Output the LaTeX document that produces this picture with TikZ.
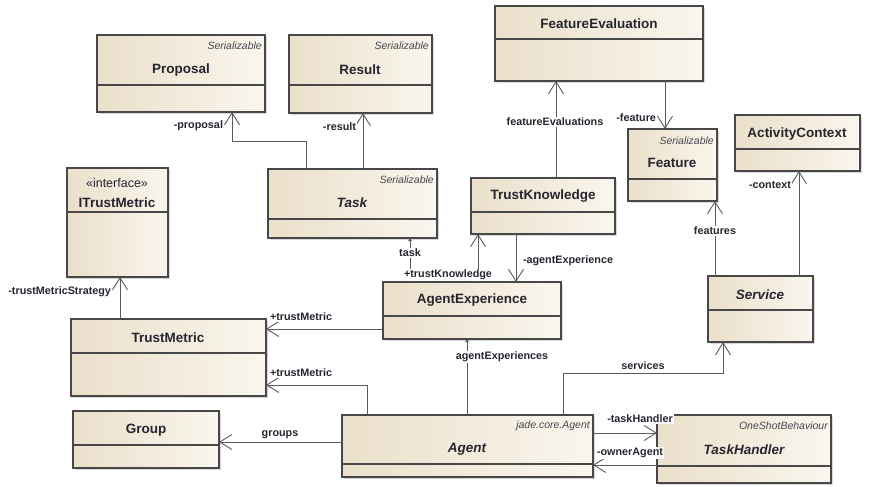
\documentclass[tikz,border=0pt]{standalone}
\usepackage{fontspec}
\setmainfont{Liberation Sans}
\usetikzlibrary{arrows.meta,shadows}

\definecolor{boxleft}{RGB}{234,223,202}
\definecolor{boxright}{RGB}{250,246,238}
\definecolor{boxline}{RGB}{72,72,72}
\definecolor{linkgray}{RGB}{90,90,90}
\definecolor{inkdark}{RGB}{38,38,48}

\tikzset{
  classbox/.style={draw=boxline, line width=1.1pt, left color=boxleft, right color=boxright,
    anchor=north west, inner sep=0pt, outer sep=0pt,
    drop shadow={opacity=0.3, shadow xshift=2pt, shadow yshift=-2pt}},
  classline/.style={boxline, line width=1.1pt},
  classname/.style={font=\fontsize{13.5}{15}\selectfont\bfseries, text=inkdark, inner sep=0pt},
  absname/.style={classname, font=\fontsize{13.5}{15}\selectfont\bfseries\itshape},
  stereo/.style={font=\fontsize{10.5}{12}\selectfont\itshape, text=inkdark!85, anchor=east, inner sep=0pt},
  assoc/.style={linkgray, line width=0.9pt, -{Straight Barb[length=12pt, width=15pt, line width=0.9pt]}},
  nav/.style={linkgray, line width=0.9pt, -{Triangle[length=3pt, width=3.5pt]}},
  role/.style={font=\fontsize{10.8}{12}\selectfont\bfseries, text=inkdark, fill=white, inner sep=0.8pt}
}

% class box: id, left, top, width, height, height of the name compartment
\newcommand{\umlclass}[6]{%
  \node[classbox, minimum width=#4pt, minimum height=#5pt] (#1) at (#2,#3) {};
  \draw[classline] ([yshift=-#6pt]#1.north west) -- ([yshift=-#6pt]#1.north east);
}

\begin{document}
\begin{tikzpicture}[x=1pt, y=-1pt]
  \fill[white] (0,0) rectangle (871,487);
  \useasboundingbox (0,0) rectangle (871,487);

  % classes
  \umlclass{proposal}{97}{35}{168}{77}{50}
  \umlclass{result}{289}{35}{143}{78}{50}
  \umlclass{feateval}{495}{6}{208}{75}{33}
  \umlclass{feature}{628}{129}{89}{72}{50}
  \umlclass{context}{735}{115}{125}{56}{34}
  \umlclass{service}{708}{276}{105}{66}{34}
  \umlclass{itrust}{67}{168}{101}{109}{44}
  \umlclass{task}{268}{169}{169}{69}{50}
  \umlclass{trustknow}{471}{178}{144}{56}{34}
  \umlclass{agentexp}{383}{282}{178}{57}{34}
  \umlclass{trustmetric}{71}{319}{195}{77}{34}
  \umlclass{group}{73}{411}{146}{57}{34}
  \umlclass{agent}{342}{415}{251}{62}{49}
  \umlclass{taskhandler}{657}{415}{174}{68}{51}

  % names and stereotypes
  \node[stereo] (proposal-st) at (262,46) {Serializable};
  \node[classname] (proposal-nm) at (181,70) {Proposal};
  \node[stereo] (result-st) at (429,46) {Serializable};
  \node[classname] (result-nm) at (360,70) {Result};
  \node[classname] (feateval-nm) at (599,24) {FeatureEvaluation};
  \node[stereo] (feature-st) at (714,141) {Serializable};
  \node[classname] (feature-nm) at (672,163) {Feature};
  \node[classname] (context-nm) at (797,134) {ActivityContext};
  \node[absname] (service-nm) at (760,295) {Service};
  \node[font=\fontsize{12.5}{14}\selectfont, text=inkdark, inner sep=0pt] (itrust-st) at (117,183) {«interface»};
  \node[classname] (itrust-nm) at (117,203) {ITrustMetric};
  \node[stereo] (task-st) at (434,180) {Serializable};
  \node[absname] (task-nm) at (352,203) {Task};
  \node[classname] (trustknow-nm) at (543,196) {TrustKnowledge};
  \node[classname] (agentexp-nm) at (472,300) {AgentExperience};
  \node[classname] (trustmetric-nm) at (168,338) {TrustMetric};
  \node[classname] (group-nm) at (146,430) {Group};
  \node[stereo] (agent-st) at (590,426) {jade.core.Agent};
  \node[absname] (agent-nm) at (467,449) {Agent};
  \node[stereo] (taskhandler-st) at (828,426) {OneShotBehaviour};
  \node[absname] (taskhandler-nm) at (744,450) {TaskHandler};

  % associations
  \draw[assoc] (task.north -| 306,0) -- ++(0,-28) -| (proposal.south -| 232,0);
  \draw[assoc] (task.north -| 363,0) -- (result.south -| 363,0);
  \draw[assoc] (trustknow.north -| 556,0) -- (feateval.south -| 556,0);
  \draw[assoc] (feateval.south -| 665,0) -- (feature.north -| 665,0);
  \draw[assoc] (service.north -| 715,0) -- (feature.south -| 715,0);
  \draw[assoc] (service.north -| 799,0) -- (context.south -| 799,0);
  \draw[assoc] (trustmetric.north -| 120,0) -- (itrust.south -| 120,0);
  \draw[nav] (agentexp.north -| 410,0) -- (task.south -| 410,0);
  \draw[assoc] (agentexp.north -| 478,0) -- (trustknow.south -| 478,0);
  \draw[assoc] (trustknow.south -| 516,0) -- (agentexp.north -| 516,0);
  \draw[assoc] (agentexp.west |- 0,329) -- (trustmetric.east |- 0,329);
  \draw[assoc] (agent.north -| 367,0) |- (trustmetric.east |- 0,385);
  \draw[assoc] (agent.west |- 0,442) -- (group.east |- 0,442);
  \draw[nav] (agent.north -| 467,0) -- (agentexp.south -| 467,0);
  \draw[assoc] (agent.north -| 563,0) -- ++(0,-42) -| (service.south -| 723,0);
  \draw[assoc] (agent.east |- 0,433) -- (taskhandler.west |- 0,433);
  \draw[assoc] (taskhandler.west |- 0,465) -- (agent.east |- 0,465);

  % role names
  \node[role, anchor=east] (r-proposal) at (224,126) {-proposal};
  \node[role, anchor=east] (r-result) at (357,127) {-result};
  \node[role] (r-feateval) at (555,122) {featureEvaluations};
  \node[role, anchor=east] (r-feature) at (657,118) {-feature};
  \node[role] (r-features) at (715,231) {features};
  \node[role, anchor=east] (r-context) at (792,185) {-context};
  \node[role, anchor=east] (r-strategy) at (112,292) {-trustMetricStrategy};
  \node[role] (r-task) at (410,253) {task};
  \node[role] (r-trustknow) at (448,275) {+trustKnowledge};
  \node[role, anchor=west] (r-agentexp) at (522,261) {-agentExperience};
  \node[role, anchor=west] (r-metric1) at (269,317) {+trustMetric};
  \node[role, anchor=west] (r-metric2) at (269,373) {+trustMetric};
  \node[role] (r-groups) at (280,435) {groups};
  \node[role] (r-agentexps) at (502,357) {agentExperiences};
  \node[role] (r-services) at (643,366) {services};
  \node[role] (r-taskhandler) at (640,419) {-taskHandler};
  \node[role] (r-owner) at (630,453) {-ownerAgent};
\end{tikzpicture}
\end{document}
